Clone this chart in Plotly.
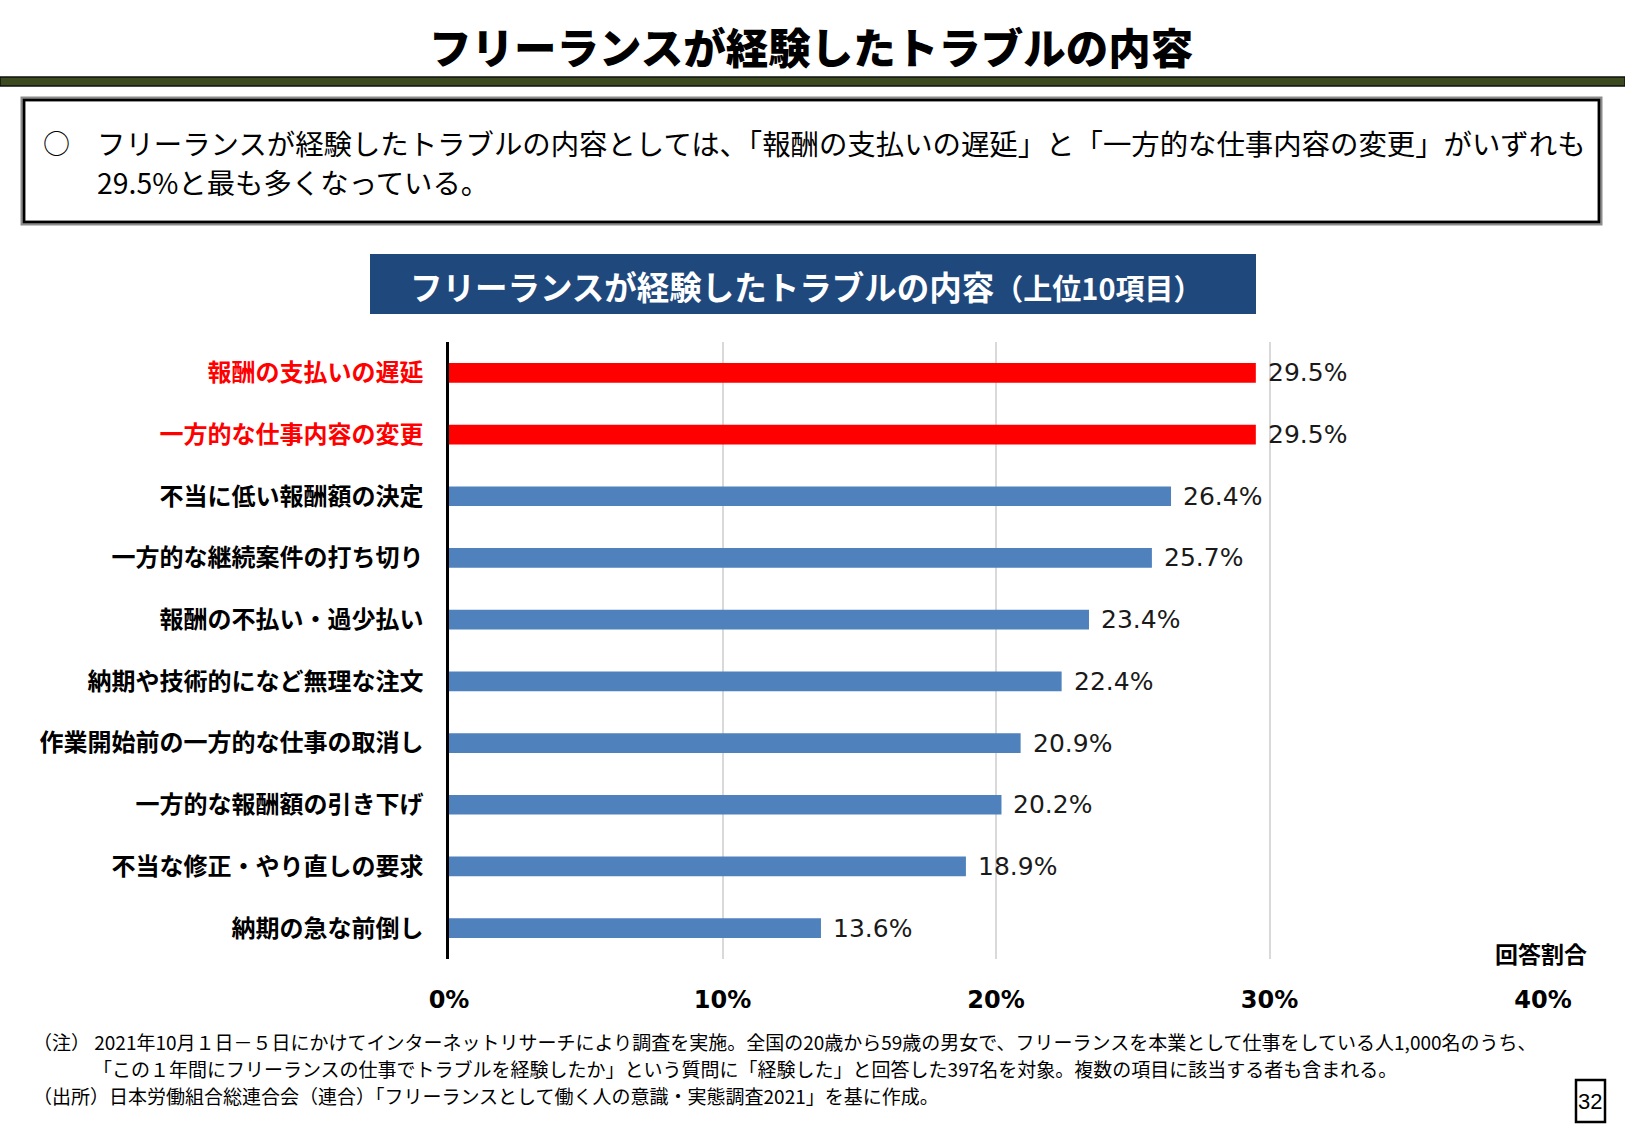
import plotly.graph_objects as go

# ---- data ----
categories = ["報酬の支払いの遅延", "一方的な仕事内容の変更", "不当に低い報酬額の決定",
              "一方的な継続案件の打ち切り", "報酬の不払い・過少払い", "納期や技術的になど無理な注文",
              "作業開始前の一方的な仕事の取消し", "一方的な報酬額の引き下げ",
              "不当な修正・やり直しの要求", "納期の急な前倒し"]
values = [29.5, 29.5, 26.4, 25.7, 23.4, 22.4, 20.9, 20.2, 18.9, 13.6]
highlighted = [True, True, False, False, False, False, False, False, False, False]
x_ticks = [0, 10, 20, 30, 40]
x_tick_labels = ["0%", "10%", "20%", "30%", "40%"]

page_title = "フリーランスが経験したトラブルの内容"
summary_line1 = "フリーランスが経験したトラブルの内容としては、「報酬の支払いの遅延」と「一方的な仕事内容の変更」がいずれも"
summary_line2 = "29.5%と最も多くなっている。"
chart_title = "フリーランスが経験したトラブルの内容"
chart_subtitle = "（上位10項目）"
axis_caption = "回答割合"
note1 = "（注） 2021年10月１日－５日にかけてインターネットリサーチにより調査を実施。全国の20歳から59歳の男女で、フリーランスを本業として仕事をしている人1,000名のうち、"
note2 = "「この１年間にフリーランスの仕事でトラブルを経験したか」という質問に「経験した」と回答した397名を対象。複数の項目に該当する者も含まれる。"
note3 = "（出所）日本労働組合総連合会（連合）「フリーランスとして働く人の意識・実態調査2021」を基に作成。"
page_no = "32"

# ---- layout geometry (pixels) ----
W, H = 1625, 1125
L, R, T, B = 449, 1543, 342, 959
RED = "#FF0000"
BLUE = "#4F81BD"
JP = "Noto Sans CJK JP"
LAT = "DejaVu Sans"


def px(x):
    return (x - L) / (R - L)


def py(y):
    return (B - y) / (B - T)


bar_colors = [RED if h else BLUE for h in highlighted]
tick_text = []
for c, h in zip(categories, highlighted):
    col = RED if h else "#000000"
    tick_text.append(f"<b><span style='color:{col}'>{c}</span></b>")

fig = go.Figure()
fig.add_trace(go.Bar(
    x=values, y=categories, orientation="h",
    marker=dict(color=bar_colors, line=dict(width=0)),
    width=0.32, hoverinfo="skip",
))

annotations = []
for c, v in zip(categories, values):
    annotations.append(dict(
        x=v, y=c, xref="x", yref="y", text=f"{v:.1f}%", showarrow=False,
        xanchor="left", yanchor="middle", xshift=10,
        font=dict(family=LAT, size=25, color="#1a1a1a"),
    ))

# page title
annotations.append(dict(x=px(811), y=py(45), xref="paper", yref="paper", text=page_title,
                        showarrow=False, xanchor="center", yanchor="middle",
                        font=dict(family=JP, size=42.5, color="#000000", weight=900)))
# summary box text
annotations.append(dict(x=px(41), y=py(142), xref="paper", yref="paper", text="○",
                        showarrow=False, xanchor="left", yanchor="middle",
                        font=dict(family=JP, size=27, color="#000000")))
annotations.append(dict(x=px(95), y=py(142), xref="paper", yref="paper", text=summary_line1,
                        showarrow=False, xanchor="left", yanchor="middle",
                        font=dict(family=JP, size=28.4, color="#000000")))
annotations.append(dict(x=px(95), y=py(182), xref="paper", yref="paper", text=summary_line2,
                        showarrow=False, xanchor="left", yanchor="middle",
                        font=dict(family=JP, size=28.4, color="#000000")))
# chart title
annotations.append(dict(x=px(806), y=py(285), xref="paper", yref="paper",
                        text=f"<b>{chart_title}</b><span style='font-size:29px'><b>{chart_subtitle}</b></span>",
                        showarrow=False, xanchor="center", yanchor="middle",
                        font=dict(family=JP, size=32.5, color="#FFFFFF")))
# axis caption
annotations.append(dict(x=px(1541), y=py(953), xref="paper", yref="paper", text=f"<b>{axis_caption}</b>",
                        showarrow=False, xanchor="center", yanchor="middle",
                        font=dict(family=JP, size=23, color="#000000")))
# notes
for txt, x0, y0 in [(note1, 31, 1041), (note2, 91, 1068), (note3, 31, 1095)]:
    annotations.append(dict(x=px(x0), y=py(y0), xref="paper", yref="paper", text=txt,
                            showarrow=False, xanchor="left", yanchor="middle",
                            font=dict(family=JP, size=19, color="#000000")))
# page number
annotations.append(dict(x=px(1590), y=py(1101), xref="paper", yref="paper", text=page_no,
                        showarrow=False, xanchor="center", yanchor="middle",
                        font=dict(family="Liberation Sans", size=22, color="#000000")))

shapes = [
    # green band
    dict(type="rect", xref="paper", yref="paper", x0=px(0), x1=px(W), y0=py(86), y1=py(77),
         fillcolor="#3B4A1F", line=dict(color="#111111", width=1.5), layer="above"),
    # summary box shadow + border
    dict(type="rect", xref="paper", yref="paper", x0=px(23), x1=px(1600), y0=py(223), y1=py(99),
         fillcolor="rgba(0,0,0,0)", line=dict(color="#8c8c8c", width=5)),
    dict(type="rect", xref="paper", yref="paper", x0=px(24), x1=px(1599), y0=py(222), y1=py(100),
         fillcolor="rgba(0,0,0,0)", line=dict(color="#000000", width=2.5)),
    # chart title box
    dict(type="rect", xref="paper", yref="paper", x0=px(370), x1=px(1256), y0=py(314), y1=py(254),
         fillcolor="#1F497D", line=dict(width=0), layer="below"),
    # page number box
    dict(type="rect", xref="paper", yref="paper", x0=px(1576), x1=px(1605), y0=py(1122), y1=py(1080),
         fillcolor="#FFFFFF", line=dict(color="#000000", width=2.5)),
]

fig.update_layout(
    width=W, height=H,
    margin=dict(l=L, r=W - R, t=T, b=H - B, pad=0),
    paper_bgcolor="#FFFFFF", plot_bgcolor="#FFFFFF",
    showlegend=False,
    annotations=annotations,
    shapes=shapes,
    bargap=0.68,
)
fig.update_xaxes(
    range=[0, 40], tickvals=x_ticks, ticktext=[f"<b>{t}</b>" for t in x_tick_labels],
    showgrid=True, gridcolor="#D9D9D9", gridwidth=1.5, zeroline=False,
    showline=False, ticks="", ticklabelstandoff=24,
    tickfont=dict(family=LAT, size=24, color="#000000"), fixedrange=True,
)
fig.update_yaxes(
    categoryorder="array", categoryarray=categories, autorange="reversed",
    tickvals=categories, ticktext=tick_text,
    showgrid=False, zeroline=False, showline=True, linecolor="#000000", linewidth=2.5,
    ticks="", ticklabelstandoff=18,
    tickfont=dict(family=JP, size=24, color="#000000"), fixedrange=True,
)

fig.write_html("out.html")
